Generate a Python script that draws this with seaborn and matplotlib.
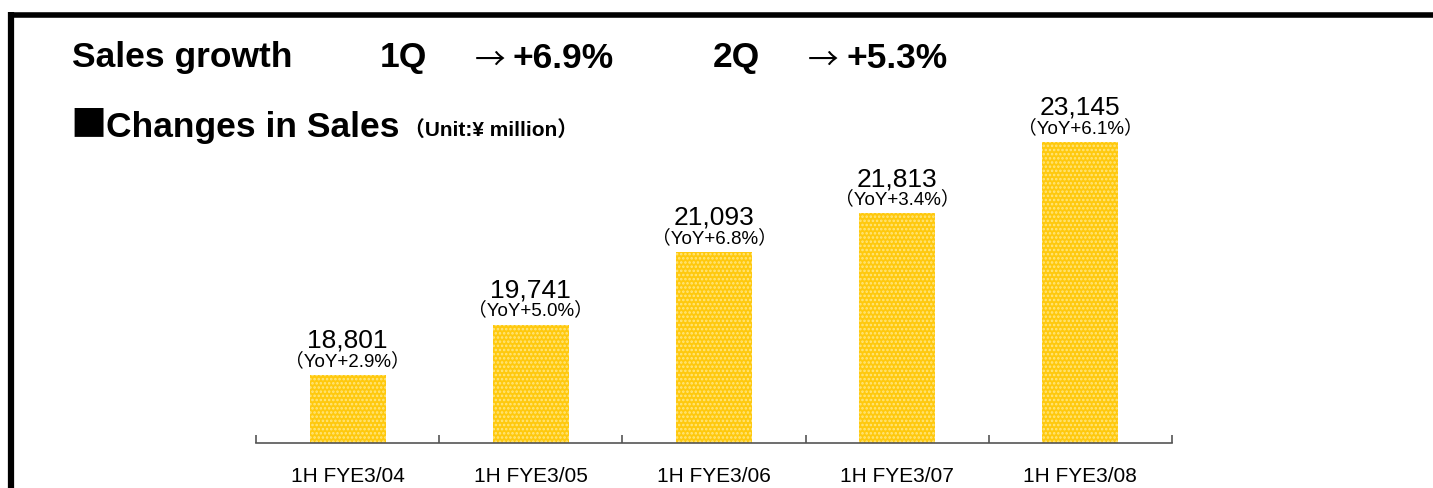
import matplotlib
matplotlib.use("Agg")
import matplotlib.pyplot as plt
import seaborn as sns
import pandas as pd
from matplotlib.lines import Line2D

# data
periods = ["1H FYE3/04", "1H FYE3/05", "1H FYE3/06", "1H FYE3/07", "1H FYE3/08"]
sales = [18801, 19741, 21093, 21813, 23145]
yoy = ["2.9", "5.0", "6.8", "3.4", "6.1"]

sns.set_style("white")
plt.rcParams['font.family'] = ['Liberation Sans', 'Noto Sans CJK JP', 'DejaVu Sans']
plt.rcParams['text.color'] = 'black'
plt.rcParams['hatch.linewidth'] = 1.2

W, H = 1433, 488
fig = plt.figure(figsize=(W / 100, H / 100), dpi=100)

def px(x, y):
    return x / W, 1 - y / H

# axes placed in pixel terms: x 256..1172, y 100..443 (from top)
left, bottom = px(256, 443)
right, top = px(1172, 100)
ax = fig.add_axes([left, bottom, right - left, top - bottom])

df = pd.DataFrame({"period": periods, "sales": sales})
sns.barplot(data=df, x="period", y="sales", ax=ax, color="#FFC90E",
            width=0.415, saturation=1)
for p in ax.patches:
    p.set_hatch("....")
    p.set_edgecolor("#FFE680")
    p.set_linewidth(0)

ax.set_xlim(-0.5, 4.5)
ax.set_ylim(17533, 23927)
for s in ["top", "right", "left"]:
    ax.spines[s].set_visible(False)
ax.spines["bottom"].set_color("#555555")
ax.spines["bottom"].set_linewidth(1.2)
ax.set_yticks([])
ax.set_xlabel("")
ax.set_ylabel("")
ax.tick_params(axis="x", which="major", bottom=True, length=0, pad=17, labelsize=15, labelcolor="black")
ax.set_xticks([i - 0.5 for i in range(6)], minor=True)
ax.tick_params(axis="x", which="minor", bottom=True, direction="in", length=6, width=1.2, color="#555555")

for i, (v, g) in enumerate(zip(sales, yoy)):
    ax.annotate(f"{v:,}", (i, v), xytext=(0, 24.5), textcoords="offset points",
                ha="center", va="center", fontsize=19)
    ax.annotate(f"（YoY+{g}%）", (i, v), xytext=(0, 10), textcoords="offset points",
                ha="center", va="center", fontsize=13.5)

# header texts
fig.text(*px(72, 58), "Sales growth", fontsize=25.5, fontweight="bold", va="center")
for x0, q, pct in [(380, "1Q", "+6.9%"), (713, "2Q", "+5.3%")]:
    fig.text(*px(x0, 58), q, fontsize=25.5, fontweight="bold", va="center")
    fig.text(*px(x0 + 95, 61), "→", fontsize=22, family="Noto Sans CJK JP", va="center")
    fig.text(*px(x0 + 133, 58), pct, fontsize=25.5, fontweight="bold", va="center")
fig.text(*px(70, 125), "■", fontsize=26, family="Noto Sans CJK JP", va="center")
fig.text(*px(106, 127), "Changes in Sales", fontsize=25.5, fontweight="bold", va="center")
fig.text(*px(404, 130), "（Unit:¥ million）", fontsize=15, fontweight="bold", va="center")

# slide frame: top and left edges
fig.add_artist(Line2D([8 / W, 1], [1 - 14.5 / H] * 2, color="black", lw=4,
                      solid_capstyle="butt", transform=fig.transFigure))
fig.add_artist(Line2D([11 / W] * 2, [0, 1 - 12 / H], color="black", lw=4.5,
                      solid_capstyle="butt", transform=fig.transFigure))

fig.savefig("out.png", dpi=100)
